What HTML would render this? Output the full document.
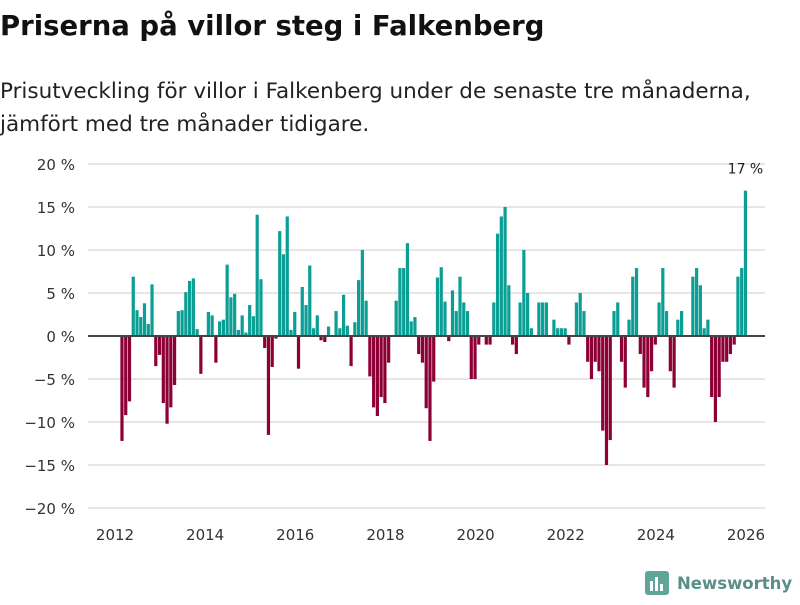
<!DOCTYPE html>
<html><head><meta charset="utf-8"><style>
body{margin:0;background:#fff;width:800px;height:600px;overflow:hidden;font-family:"Liberation Sans","DejaVu Sans",sans-serif;}
svg text{font-family:"DejaVu Sans","Liberation Sans",sans-serif;}
</style></head><body>
<svg id="chart" width="800" height="600" xmlns="http://www.w3.org/2000/svg">
<text x="0" y="35" font-size="27.5" font-weight="bold" fill="#111">Priserna på villor steg i Falkenberg</text>
<text x="0" y="98" font-size="21.5" fill="#222">Prisutveckling för villor i Falkenberg under de senaste tre månaderna,</text>
<text x="0" y="131" font-size="21.5" fill="#222">jämfört med tre månader tidigare.</text>
<g id="grid"></g><g id="bars"></g><g id="axes"></g>
<g>
<rect x="645" y="571" width="24" height="24" rx="3" fill="#5fa59a"/>
<rect x="650" y="581" width="3" height="10" fill="#fff"/><rect x="655" y="577" width="3" height="14" fill="#fff"/><rect x="660" y="584" width="3" height="7" fill="#fff"/>
<text x="677" y="589" font-size="16.5" font-weight="bold" fill="#5a8f88">Newsworthy</text>
</g>
</svg>
<script>
const yTicks=[20,15,10,5,0,-5,-10,-15,-20];
const xTicks=[2012,2014,2016,2018,2020,2022,2024,2026];
const startYear=2012, startMonth=1;
const values=[-12.2,-9.2,-7.6,6.9,3.0,2.2,3.8,1.4,6.0,-3.5,-2.2,-7.8,-10.2,-8.3,-5.7,2.9,3.0,5.1,6.4,6.7,0.8,-4.4,0,2.8,2.4,-3.1,1.7,1.9,8.3,4.5,4.9,0.7,2.4,0.4,3.6,2.3,14.1,6.6,-1.4,-11.5,-3.6,-0.3,12.2,
9.5,13.9,0.7,2.8,-3.8,5.7,3.6,8.2,0.9,2.4,-0.5,-0.7,1.1,0,2.9,0.9,4.8,1.2,-3.5,1.6,6.5,10.0,4.1,-4.7,-8.3,-9.3,-7.1,-7.8,-3.1,0,4.1,7.9,7.9,10.8,1.7,2.2,-2.1,-3.1,-8.4,-12.2,-5.3,6.8,
8.0,4.0,-0.6,5.3,2.9,6.9,3.9,2.9,-5.0,-5.0,-1.0,0,-1.0,-1.0,3.9,11.9,13.9,15.0,5.9,-1.0,-2.1,3.9,10.0,5.0,0.9,0,3.9,3.9,3.9,0,1.9,0.9,0.9,0.9,-1.0,0,3.9,5.0,2.9,-3.0,-5.0,-3.0,-4.1,
-11.0,-15.0,-12.1,2.9,3.9,-3.0,-6.0,1.9,6.9,7.9,-2.1,-6.0,-7.1,-4.1,-1.0,3.9,7.9,2.9,-4.1,-6.0,1.9,2.9,0,0,6.9,7.9,5.9,0.9,1.9,-7.1,-10.0,-7.1,-3.0,-3.0,-2.1,-1.0,6.9,7.9,16.9];
const lastLabel="17 %";
const NS="http://www.w3.org/2000/svg";
const y=v=>336-v*8.6;
const x=yr=>115+(yr-2012)*45.07;
function mk(t,a,p){const e=document.createElementNS(NS,t);for(const k in a)e.setAttribute(k,a[k]);p.appendChild(e);return e;}
const grid=document.getElementById('grid'),bars=document.getElementById('bars'),axes=document.getElementById('axes');
yTicks.forEach(t=>{
 const l=mk('line',{x1:88,x2:765,y1:y(t),y2:y(t),stroke:t===0?'#444':'#ddd','stroke-width':t===0?2:1.5},t===0?axes:grid);
 
 
 const tx=mk('text',{x:75,y:y(t)+6,'text-anchor':'end','font-size':15,fill:'#333'},axes);
 tx.textContent=(t<0?'−'+(-t):t)+' %';
 
 
});
xTicks.forEach(t=>{
 const tx=mk('text',{x:x(t),y:540,'text-anchor':'middle','font-size':15,fill:'#333'},axes);
 tx.textContent=t;
 
 
});
values.forEach((v,i)=>{
 const yr=startYear+(startMonth+i+0.86)/12;
 const cx=x(yr);
 const r=mk('rect',{x:cx-1.6,width:3.2,y:Math.min(y(v),y(0)),height:Math.abs(y(v)-y(0)),fill:v>=0?'#0a9e94':'#8c0035'},bars);
 
 
 if(i===values.length-1){
  const a=mk('text',{x:cx,y:y(v)-17,'text-anchor':'middle','font-size':14,fill:'#222'},axes);
  a.textContent=lastLabel;
  
  
 }
});
</script>
</body></html>
